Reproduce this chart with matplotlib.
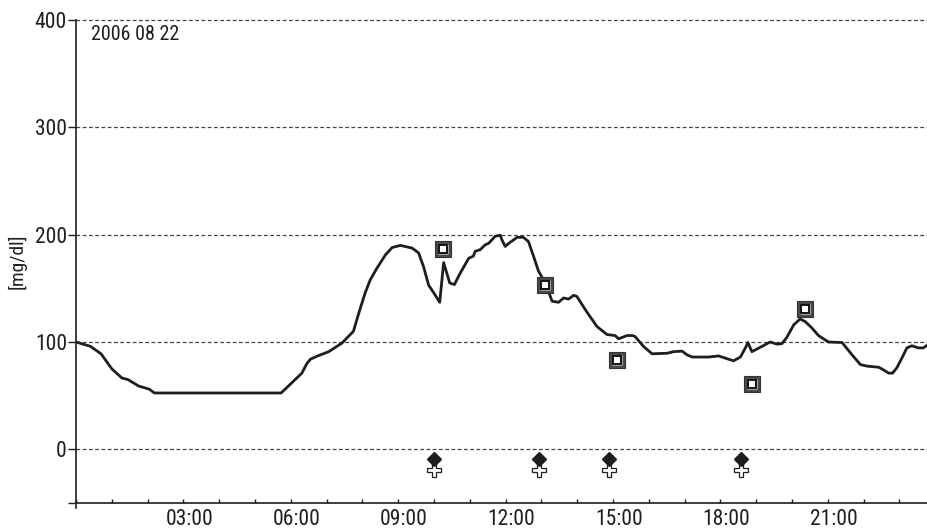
import matplotlib
matplotlib.use("Agg")
import matplotlib.pyplot as plt
import matplotlib.transforms as mtransforms
from matplotlib.ticker import FixedLocator, MultipleLocator

FONTS = ['Liberation Sans Narrow', 'Roboto Condensed', 'Open Sans Condensed', 'Roboto', 'DejaVu Sans']
plt.rcParams['font.family'] = FONTS

# ---- data ----
hours = [0.00, 0.40, 0.70, 1.00, 1.28, 1.45, 1.75, 2.05, 2.19, 5.73,
         6.31, 6.45, 6.55, 6.75, 7.06, 7.43, 7.75, 7.90, 8.08, 8.22,
         8.41, 8.64, 8.83, 9.06, 9.39, 9.57, 9.71, 9.85, 9.99, 10.16,
         10.27, 10.44, 10.57, 10.73, 10.97, 11.10, 11.15, 11.29, 11.43, 11.53,
         11.71, 11.85, 11.90, 11.99, 12.13, 12.22, 12.32, 12.50, 12.64, 12.78,
         12.92, 13.11, 13.30, 13.48, 13.62, 13.76, 13.90, 13.99, 14.27, 14.55,
         14.83, 15.06, 15.16, 15.39, 15.55, 15.62, 15.85, 16.09, 16.51, 16.69,
         16.93, 17.07, 17.21, 17.67, 17.95, 18.18, 18.37, 18.56, 18.70, 18.77,
         18.88, 19.11, 19.39, 19.58, 19.72, 19.86, 20.05, 20.23, 20.37, 20.56,
         20.74, 21.02, 21.40, 21.68, 21.91, 22.10, 22.42, 22.56, 22.70, 22.81,
         22.93, 23.07, 23.21, 23.35, 23.53, 23.67, 23.82]
glucose = [100, 96, 89, 75, 66.5, 65, 59, 56, 52.5, 52.5,
           71, 80, 84, 87, 91, 99, 110, 127, 146, 158,
           169, 181, 188, 190, 187.5, 183, 170, 153, 146, 137,
           174, 155, 153.5, 164, 178, 180, 184.5, 186, 190.5, 192,
           198.5, 199.5, 195, 189, 193, 195, 197.5, 197.5, 193.5, 180,
           166, 155, 138, 137, 141, 140, 143.5, 142.5, 128, 114.5,
           107, 106, 103, 106, 106, 105, 96, 89, 89.5, 91,
           91.5, 88, 86, 86, 87, 84.5, 82.5, 86, 94.5, 99.5,
           91, 95, 100, 98, 98.5, 104.5, 116, 121.5, 119, 113,
           106, 100, 99.5, 88, 79, 77.5, 76.5, 74, 71, 71,
           76, 85, 94.5, 96.5, 94.5, 94.5, 98]

meter_hours = [10.25, 13.11, 15.11, 18.88, 20.37]
meter_values = [187, 153, 83.5, 61, 131]

event_hours = [10.0, 12.94, 14.89, 18.58]
diamond_level = -9
cross_level = -19

date_label = "2006 08 22"
ylabel = "[mg/dl]"
y_ticks = [0, 100, 200, 300, 400]
x_major = [3, 6, 9, 12, 15, 18, 21]
x_labels = ["03:00", "06:00", "09:00", "12:00", "15:00", "18:00", "21:00"]

# ---- figure ----
fig = plt.figure(figsize=(9.28, 5.28), dpi=100)
ax = fig.add_axes([76/928, 25/528, 852/928, 483/528])
ax.set_xlim(0, 23.8)
ax.set_ylim(-50, 400)

ink = '#1e1e1e'

for y in y_ticks:
    ax.axhline(y, color='#444444', lw=0.9, ls=(0, (3, 2)), zorder=1, clip_on=False)

ax.plot(hours, glucose, color=ink, lw=2.0, zorder=3, solid_joinstyle='round')

# meter (boxed) markers
ax.plot(meter_hours, meter_values, ls='none', marker='s', ms=11, mfc='#4a4a4a', mec='#333333', mew=0.8, zorder=4)
ax.plot(meter_hours, meter_values, ls='none', marker='s', ms=7.5, mfc='white', mec='none', zorder=5)
ax.plot(meter_hours, meter_values, ls='none', marker='s', ms=5.2, mfc='white', mec='#111111', mew=1.4, zorder=6)

# event markers
ax.plot(event_hours, [cross_level]*len(event_hours), ls='none', marker='P', ms=10.5, mfc='white', mec=ink, mew=0.9, zorder=4, clip_on=False)
ax.plot(event_hours, [diamond_level]*len(event_hours), ls='none', marker='D', ms=7.5, mfc=ink, mec=ink, zorder=5, clip_on=False)

# spines
for s in ['top', 'right']:
    ax.spines[s].set_visible(False)
for s in ['left', 'bottom']:
    ax.spines[s].set_color(ink)
    ax.spines[s].set_linewidth(1.2)

ax.yaxis.set_major_locator(FixedLocator(y_ticks))
ax.set_yticklabels([str(v) for v in y_ticks])
ax.yaxis.set_minor_locator(FixedLocator([-50]))
ax.tick_params(axis='y', which='both', direction='out', length=5.5, width=1.0, color=ink,
               pad=1, labelsize=15.5, labelcolor=ink)

ax.xaxis.set_major_locator(FixedLocator(x_major))
ax.set_xticklabels(x_labels)
ax.xaxis.set_minor_locator(MultipleLocator(1))
ax.tick_params(axis='x', which='both', direction='in', length=3.2, width=1.0, color=ink,
               pad=4, labelsize=15.5, labelcolor=ink)
offset = mtransforms.ScaledTranslation(6/100, 0, fig.dpi_scale_trans)
for lab in ax.get_xticklabels():
    lab.set_transform(lab.get_transform() + offset)

# small spine extension below the x axis
ax.plot([0, 0], [0, -0.01], transform=ax.transAxes, color=ink, lw=1.2, clip_on=False)

ax.set_ylabel(ylabel, fontsize=14, color=ink)
ax.yaxis.set_label_coords(-0.058, 0.5)
ax.text(0.018, 0.99, date_label, transform=ax.transAxes, ha='left', va='top', fontsize=14.5, color=ink)

fig.savefig("out.png", dpi=100)
